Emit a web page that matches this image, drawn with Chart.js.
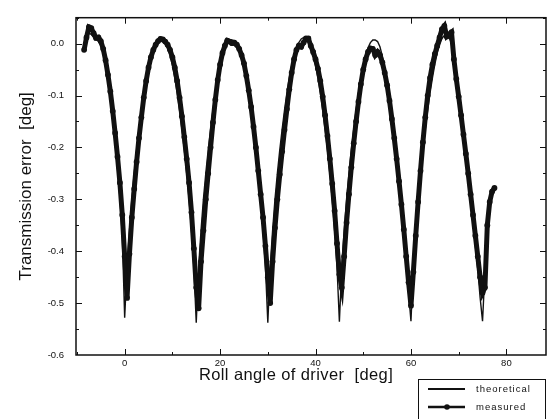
<!DOCTYPE html>
<html>
<head>
<meta charset="utf-8">
<script src="https://cdn.jsdelivr.net/npm/chart.js@4.4.0/dist/chart.umd.min.js"></script>
<style>
  html, body { margin: 0; padding: 0; background: #fff; }
</style>
</head>
<body>
<canvas id="teChart" width="550" height="419"></canvas>
<script>
// Transmission error vs roll angle: theoretical vs measured

const theoreticalAngle = [
  -8.5, -8, -7.5, -7, -6.5, -6, -5.5, -5, -4.5, -4, -3.5, -3, -2.5, -2, -1.5, -1, -0.5,
  0, 0.5, 1, 1.5, 2, 2.5, 3, 3.5, 4, 4.5, 5, 5.5, 6, 6.5, 7, 7.5, 8, 8.5, 9, 9.5, 10, 10.5, 11, 11.5, 12, 12.5, 13, 13.5, 14, 14.5,
  15, 15.5, 16, 16.5, 17, 17.5, 18, 18.5, 19, 19.5, 20, 20.5, 21, 21.5, 22, 22.5, 23, 23.5, 24, 24.5, 25, 25.5, 26, 26.5, 27, 27.5, 28, 28.5, 29, 29.5,
  30, 30.5, 31, 31.5, 32, 32.5, 33, 33.5, 34, 34.5, 35, 35.5, 36, 36.5, 37, 37.5, 38, 38.5, 39, 39.5, 40, 40.5, 41, 41.5, 42, 42.5, 43, 43.5, 44, 44.5,
  45, 45.5, 46, 46.5, 47, 47.5, 48, 48.5, 49, 49.5, 50, 50.5, 51, 51.5, 52, 52.5, 53, 53.5, 54, 54.5, 55, 55.5, 56, 56.5, 57, 57.5, 58, 58.5, 59, 59.5,
  60, 60.5, 61, 61.5, 62, 62.5, 63, 63.5, 64, 64.5, 65, 65.5, 66, 66.5, 67, 67.5, 68, 68.5, 69, 69.5, 70, 70.5, 71, 71.5, 72, 72.5, 73, 73.5, 74, 74.5,
  75, 75.5, 76, 76.5
];
const theoreticalError = [
  -0.004, 0.010, 0.020, 0.018, 0.012, 0.008, 0.004, -0.004, -0.018, -0.042, -0.072, -0.105, -0.145, -0.190, -0.240, -0.295, -0.370,
  -0.528, -0.43, -0.36, -0.30, -0.25, -0.205, -0.165, -0.128, -0.095, -0.066, -0.042, -0.022, -0.008, 0.002, 0.008, 0.009, 0.008, 0.002, -0.008, -0.022, -0.042, -0.066, -0.095, -0.128, -0.165, -0.205, -0.25, -0.30, -0.36, -0.43,
  -0.538, -0.43, -0.36, -0.30, -0.25, -0.205, -0.165, -0.128, -0.095, -0.066, -0.042, -0.022, -0.008, 0.002, 0.007, 0.007, 0.006, 0.001, -0.008, -0.022, -0.042, -0.066, -0.095, -0.128, -0.165, -0.205, -0.25, -0.30, -0.36, -0.43,
  -0.538, -0.43, -0.36, -0.30, -0.25, -0.205, -0.165, -0.128, -0.095, -0.066, -0.042, -0.022, -0.008, 0.002, 0.009, 0.012, 0.010, 0.003, -0.008, -0.022, -0.042, -0.066, -0.095, -0.128, -0.165, -0.205, -0.25, -0.30, -0.36, -0.43,
  -0.536, -0.43, -0.36, -0.30, -0.25, -0.205, -0.165, -0.128, -0.095, -0.066, -0.042, -0.022, -0.008, 0.002, 0.007, 0.007, 0.004, -0.006, -0.024, -0.048, -0.076, -0.106, -0.140, -0.178, -0.218, -0.262, -0.310, -0.365, -0.430, -0.48,
  -0.535, -0.43, -0.36, -0.30, -0.25, -0.205, -0.165, -0.128, -0.095, -0.066, -0.040, -0.018, -0.002, 0.010, 0.016, 0.016, 0.012, 0.000, -0.040, -0.078, -0.112, -0.148, -0.185, -0.222, -0.262, -0.302, -0.345, -0.390, -0.435, -0.49,
  -0.535, -0.44, -0.36, -0.31
];

const measuredAngle = [
  -8.5, -8, -7.5, -7, -6.5, -6, -5.5, -5, -4.5, -4, -3.5, -3, -2.5, -2, -1.5, -1, -0.5,
  0, 0.5, 1, 1.5, 2, 2.5, 3, 3.5, 4, 4.5, 5, 5.5, 6, 6.5, 7, 7.5, 8, 8.5, 9, 9.5, 10, 10.5, 11, 11.5, 12, 12.5, 13, 13.5, 14, 14.5,
  15, 15.5, 16, 16.5, 17, 17.5, 18, 18.5, 19, 19.5, 20, 20.5, 21, 21.5, 22, 22.5, 23, 23.5, 24, 24.5, 25, 25.5, 26, 26.5, 27, 27.5, 28, 28.5, 29, 29.5,
  30, 30.5, 31, 31.5, 32, 32.5, 33, 33.5, 34, 34.5, 35, 35.5, 36, 36.5, 37, 37.5, 38, 38.5, 39, 39.5, 40, 40.5, 41, 41.5, 42, 42.5, 43, 43.5, 44, 44.5,
  45, 45.5, 46, 46.5, 47, 47.5, 48, 48.5, 49, 49.5, 50, 50.5, 51, 51.5, 52, 52.5, 53, 53.5, 54, 54.5, 55, 55.5, 56, 56.5, 57, 57.5, 58, 58.5, 59, 59.5,
  60, 60.5, 61, 61.5, 62, 62.5, 63, 63.5, 64, 64.5, 65, 65.5, 66, 66.5, 67, 67.5, 68, 68.5, 69, 69.5, 70, 70.5, 71, 71.5, 72, 72.5, 73, 73.5, 74, 74.5,
  75, 75.5, 76, 76.5, 77, 77.5
];
const measuredError = [
  -0.012, 0.012, 0.032, 0.030, 0.020, 0.011, 0.012, 0.005, -0.010, -0.032, -0.060, -0.092, -0.130, -0.172, -0.218, -0.268, -0.330,
  -0.410, -0.490, -0.405, -0.335, -0.280, -0.228, -0.182, -0.142, -0.104, -0.072, -0.046, -0.026, -0.012, -0.002, 0.005, 0.009, 0.008, 0.004, -0.002, -0.012, -0.026, -0.046, -0.072, -0.104, -0.140, -0.180, -0.222, -0.268, -0.325, -0.395,
  -0.470, -0.510, -0.420, -0.360, -0.300, -0.250, -0.200, -0.152, -0.108, -0.070, -0.040, -0.018, -0.004, 0.006, 0.004, 0.001, 0.002, -0.002, -0.010, -0.022, -0.038, -0.062, -0.090, -0.122, -0.160, -0.200, -0.245, -0.290, -0.335, -0.390,
  -0.450, -0.500, -0.420, -0.355, -0.300, -0.252, -0.208, -0.166, -0.126, -0.088, -0.056, -0.030, -0.012, -0.004, -0.006, 0.002, 0.010, 0.010, -0.004, -0.016, -0.030, -0.048, -0.072, -0.102, -0.138, -0.178, -0.222, -0.270, -0.322, -0.385,
  -0.445, -0.470, -0.410, -0.345, -0.290, -0.238, -0.192, -0.150, -0.112, -0.078, -0.050, -0.030, -0.016, -0.009, -0.010, -0.022, -0.016, -0.022, -0.036, -0.056, -0.080, -0.110, -0.145, -0.182, -0.222, -0.265, -0.310, -0.358, -0.410, -0.460,
  -0.505, -0.440, -0.370, -0.305, -0.245, -0.190, -0.142, -0.100, -0.066, -0.040, -0.020, -0.004, 0.012, 0.028, 0.034, 0.014, 0.018, 0.022, -0.030, -0.068, -0.102, -0.138, -0.175, -0.212, -0.250, -0.290, -0.330, -0.370, -0.410, -0.450,
  -0.480, -0.470, -0.350, -0.305, -0.285, -0.278
];

const xTickValues = [0, 20, 40, 60, 80];
const xMinorTicks = [-10, 10, 30, 50, 70];
const yTickValues = [-0.6, -0.5, -0.4, -0.3, -0.2, -0.1, 0.0];
const yMinorTicks = [-0.55, -0.45, -0.35, -0.25, -0.15, -0.05, 0.05];

const seriesNames = ['theoretical', 'measured'];
const xTitle = 'Roll angle of driver  [deg]';
const yTitle = 'Transmission error  [deg]';

const INK = '#111';
const FONT = '"Liberation Sans", Arial, sans-serif';

function toPoints(xs, ys) {
  return xs.map((x, i) => ({ x: x, y: ys[i] }));
}

// frame, inward ticks, x title and legend box
const plotDecor = {
  id: 'plotDecor',
  afterDraw(chart) {
    const { ctx, chartArea: a, scales: { x, y } } = chart;
    ctx.save();
    ctx.strokeStyle = INK;
    ctx.lineWidth = 1.5;
    ctx.strokeRect(a.left, a.top, a.right - a.left, a.bottom - a.top);

    ctx.lineWidth = 1;
    ctx.beginPath();
    const tickX = (vals, len) => vals.forEach(v => {
      const px = Math.round(x.getPixelForValue(v)) + 0.5;
      if (px < a.left || px > a.right) return;
      ctx.moveTo(px, a.bottom); ctx.lineTo(px, a.bottom - len);
      ctx.moveTo(px, a.top); ctx.lineTo(px, a.top + len);
    });
    const tickY = (vals, len) => vals.forEach(v => {
      const py = Math.round(y.getPixelForValue(v)) + 0.5;
      if (py < a.top - 1 || py > a.bottom) return;
      ctx.moveTo(a.left, py); ctx.lineTo(a.left + len, py);
      ctx.moveTo(a.right, py); ctx.lineTo(a.right - len, py);
    });
    tickX(xTickValues, 6);
    tickX(xMinorTicks, 3);
    tickY(yTickValues, 6);
    tickY(yMinorTicks, 3);
    ctx.stroke();

    // x axis title
    ctx.fillStyle = INK;
    ctx.font = '16.5px ' + FONT;
    ctx.textAlign = 'center';
    ctx.textBaseline = 'middle';
    ctx.letterSpacing = '0.4px';
    ctx.fillText(xTitle, 296, 375);

    // legend box
    ctx.lineWidth = 1;
    ctx.strokeRect(418.5, 379.5, 127, 50);
    ctx.lineWidth = 2;
    ctx.beginPath();
    ctx.moveTo(428, 389); ctx.lineTo(465, 389);
    ctx.stroke();
    ctx.lineWidth = 2.5;
    ctx.beginPath();
    ctx.moveTo(428, 407); ctx.lineTo(465, 407);
    ctx.stroke();
    ctx.beginPath();
    ctx.arc(447, 407, 2.8, 0, Math.PI * 2);
    ctx.fill();
    ctx.font = '9.5px ' + FONT;
    ctx.textAlign = 'left';
    ctx.letterSpacing = '1px';
    ctx.fillText(seriesNames[0], 476, 389);
    ctx.fillText(seriesNames[1], 476, 407);
    ctx.restore();
  }
};

new Chart(document.getElementById('teChart'), {
  type: 'line',
  data: {
    datasets: [
      {
        label: seriesNames[0],
        data: toPoints(theoreticalAngle, theoreticalError),
        borderColor: INK,
        borderWidth: 1.4,
        pointRadius: 0,
        tension: 0,
        fill: false
      },
      {
        label: seriesNames[1],
        data: toPoints(measuredAngle, measuredError),
        borderColor: INK,
        backgroundColor: INK,
        borderWidth: 5,
        pointRadius: 2.9,
        pointBorderWidth: 0,
        tension: 0,
        fill: false
      }
    ]
  },
  options: {
    responsive: false,
    animation: false,
    devicePixelRatio: 1,
    layout: { padding: { top: 10, right: 2, left: 0, bottom: 0 } },
    plugins: {
      legend: { display: false },
      tooltip: { enabled: false }
    },
    scales: {
      x: {
        type: 'linear',
        min: -10.2,
        max: 88.3,
        grid: { display: false, drawTicks: false },
        border: { display: false },
        afterBuildTicks: (scale) => { scale.ticks = xTickValues.map(v => ({ value: v })); },
        afterFit: (scale) => { scale.height = 64; },
        ticks: {
          padding: 3,
          color: INK,
          font: { family: FONT, size: 9.5 },
          callback: (v) => String(v)
        }
      },
      y: {
        type: 'linear',
        min: -0.6,
        max: 0.05,
        grid: { display: false, drawTicks: false },
        border: { display: false },
        afterBuildTicks: (scale) => { scale.ticks = yTickValues.map(v => ({ value: v })); },
        afterFit: (scale) => { scale.width = 76; },
        ticks: {
          padding: 12,
          color: INK,
          font: { family: FONT, size: 9.5 },
          callback: (v) => Number(v).toFixed(1)
        },
        title: {
          display: true,
          text: yTitle,
          color: INK,
          font: { family: FONT, size: 17 },
          padding: { top: 16, bottom: 0 }
        }
      }
    }
  },
  plugins: [plotDecor]
});
</script>
</body>
</html>
